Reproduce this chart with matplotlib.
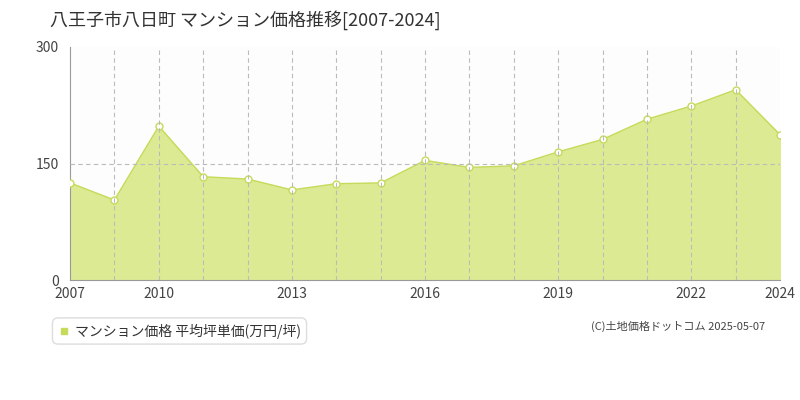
import matplotlib
matplotlib.use("Agg")
import matplotlib.pyplot as plt
from matplotlib.lines import Line2D

plt.rcParams['font.family'] = ['Noto Sans CJK JP']
values = [125,103,198,133,130,116,124,125,154,145,147,165,181,207,224,245,187]
tick_idx = [0,2,5,8,11,14,16]
tick_labels = ["2007","2010","2013","2016","2019","2022","2024"]
yticks = [0,150,300]

fig = plt.figure(figsize=(8,4), dpi=100)
ax = fig.add_axes([70/800, 1-280/400, 710/800, 233/400])
x = list(range(len(values)))
ax.set_facecolor('#fdfdfd')
ax.fill_between(x, values, 0, color='#dceb93', zorder=2)
ax.plot(x, values, color='#c5db5c', lw=1, zorder=3)
ax.plot(x, values, 'o', ms=5, mfc='white', mec='#c5db5c', mew=1, zorder=4)
for i in x[1:-1]:
    ax.axvline(i, color='#bbbbbb', ls=(0,(4,3)), lw=0.8, zorder=5)
ax.axhline(150, color='#bbbbbb', ls=(0,(4,3)), lw=0.8, zorder=5)
ax.set_xlim(0, len(values)-1)
ax.set_ylim(0, 300)
ax.set_xticks(tick_idx, tick_labels)
ax.set_yticks(yticks)
ax.tick_params(length=0, labelsize=10, colors='#444444')
ax.tick_params(axis='y', pad=8)
ax.tick_params(axis='x', pad=5)
for s in ['top','right']:
    ax.spines[s].set_visible(False)
for s in ['left','bottom']:
    ax.spines[s].set_color('#999999')
fig.text(50/800, 1-20/400, "八王子市八日町 マンション価格推移[2007-2024]", fontsize=13, va='center', color='#333333')
fig.text(58/800, 1-331/400, "　 マンション価格 平均坪単価(万円/坪)", fontsize=10, va='center', color='#333333',
         bbox=dict(boxstyle='round,pad=0.4', fc='white', ec='#dddddd'), zorder=5)
fig.add_artist(Line2D([64/800], [1-331/400], marker='s', ms=4, color='#c5db5c', ls='none', zorder=10))
fig.text(765/800, 1-326/400, "(C)土地価格ドットコム 2025-05-07", fontsize=8, ha='right', va='center', color='#444444')
fig.savefig("out.png")
